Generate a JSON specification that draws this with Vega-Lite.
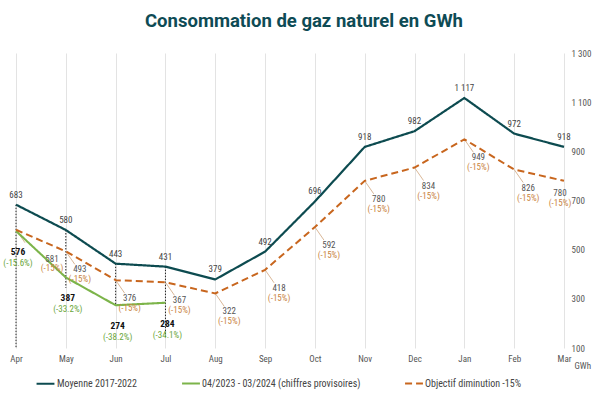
{
  "$schema": "https://vega.github.io/schema/vega-lite/v6.json",
  "width": 548,
  "height": 295,
  "autosize": {"type": "none"},
  "padding": {"left": 16, "top": 53, "right": 36, "bottom": 48},
  "title": {"text": "Consommation de gaz naturel en GWh", "font": "Roboto", "fontSize": 18.5, "fontWeight": "bold", "color": "#0e4b55", "anchor": "middle", "offset": 19, "dx": 14},
  "config": {
    "view": {"stroke": null},
    "font": "Liberation Sans Narrow, Roboto Condensed, Roboto",
    "locale": {"number": {"decimal": ",", "thousands": " ", "grouping": [3], "currency": ["", ""]}}
  },
  "datasets": {
    "lines": [
      {"month": "Apr", "series": "Moyenne 2017-2022", "value": 683},
      {"month": "May", "series": "Moyenne 2017-2022", "value": 580},
      {"month": "Jun", "series": "Moyenne 2017-2022", "value": 443},
      {"month": "Jul", "series": "Moyenne 2017-2022", "value": 431},
      {"month": "Aug", "series": "Moyenne 2017-2022", "value": 379},
      {"month": "Sep", "series": "Moyenne 2017-2022", "value": 492},
      {"month": "Oct", "series": "Moyenne 2017-2022", "value": 696},
      {"month": "Nov", "series": "Moyenne 2017-2022", "value": 918},
      {"month": "Dec", "series": "Moyenne 2017-2022", "value": 982},
      {"month": "Jan", "series": "Moyenne 2017-2022", "value": 1117},
      {"month": "Feb", "series": "Moyenne 2017-2022", "value": 972},
      {"month": "Mar", "series": "Moyenne 2017-2022", "value": 918},
      {"month": "Apr", "series": "04/2023 - 03/2024 (chiffres provisoires)", "value": 576, "pct": "(-15.6%)"},
      {"month": "May", "series": "04/2023 - 03/2024 (chiffres provisoires)", "value": 387, "pct": "(-33.2%)"},
      {"month": "Jun", "series": "04/2023 - 03/2024 (chiffres provisoires)", "value": 274, "pct": "(-38.2%)"},
      {"month": "Jul", "series": "04/2023 - 03/2024 (chiffres provisoires)", "value": 284, "pct": "(-34.1%)"},
      {"month": "Apr", "series": "Objectif diminution -15%", "value": 581, "pct": "(-15%)"},
      {"month": "May", "series": "Objectif diminution -15%", "value": 493, "pct": "(-15%)"},
      {"month": "Jun", "series": "Objectif diminution -15%", "value": 376, "pct": "(-15%)"},
      {"month": "Jul", "series": "Objectif diminution -15%", "value": 367, "pct": "(-15%)"},
      {"month": "Aug", "series": "Objectif diminution -15%", "value": 322, "pct": "(-15%)"},
      {"month": "Sep", "series": "Objectif diminution -15%", "value": 418, "pct": "(-15%)"},
      {"month": "Oct", "series": "Objectif diminution -15%", "value": 592, "pct": "(-15%)"},
      {"month": "Nov", "series": "Objectif diminution -15%", "value": 780, "pct": "(-15%)"},
      {"month": "Dec", "series": "Objectif diminution -15%", "value": 834, "pct": "(-15%)"},
      {"month": "Jan", "series": "Objectif diminution -15%", "value": 949, "pct": "(-15%)"},
      {"month": "Feb", "series": "Objectif diminution -15%", "value": 826, "pct": "(-15%)"},
      {"month": "Mar", "series": "Objectif diminution -15%", "value": 780, "pct": "(-15%)"}
    ],
    "drops": [
      {"month": "Apr", "from": 683, "to": 100},
      {"month": "May", "from": 580, "to": 345},
      {"month": "Jun", "from": 443, "to": 275},
      {"month": "Jul", "from": 431, "to": 145}
    ]
  },
  "encoding": {
    "x": {
      "field": "month", "type": "ordinal",
      "sort": ["Apr","May","Jun","Jul","Aug","Sep","Oct","Nov","Dec","Jan","Feb","Mar"],
      "scale": {"type": "point", "padding": 0, "domain": ["Apr","May","Jun","Jul","Aug","Sep","Oct","Nov","Dec","Jan","Feb","Mar"]},
      "axis": {"title": null, "grid": true, "gridColor": "#e3e3e3", "gridWidth": 1, "domain": false, "ticks": false, "labelAngle": 0, "labelFontSize": 9, "labelColor": "#555555", "labelPadding": 6}
    }
  },
  "layer": [
    {
      "data": {"name": "drops"},
      "mark": {"type": "rule", "color": "#222222", "strokeWidth": 1, "strokeDash": [1.5, 1.5]},
      "encoding": {
        "y": {"field": "from", "type": "quantitative"},
        "y2": {"field": "to"}
      }
    },
    {
      "data": {"name": "lines"},
      "transform": [{"filter": "datum.series == 'Objectif diminution -15%' && datum.month != 'Mar'"}],
      "mark": {"type": "rule", "color": "#cfa47c", "strokeWidth": 0.8, "x2Offset": 9, "y2Offset": 13},
      "encoding": {
        "y": {"field": "value", "type": "quantitative"},
        "x2": {"field": "month"},
        "y2": {"field": "value"}
      }
    },
    {
      "data": {"name": "lines"},
      "mark": {"type": "line"},
      "encoding": {
        "y": {
          "field": "value", "type": "quantitative",
          "scale": {"domain": [100, 1300], "nice": false, "zero": false},
          "axis": {"orient": "right", "values": [100,300,500,700,900,1100,1300], "format": ",.0f", "grid": false, "domain": false, "ticks": false, "labelFontSize": 9, "labelColor": "#555555", "labelPadding": 7, "title": "GWh", "titleAngle": 0, "titleFontSize": 9, "titleFontWeight": "normal", "titleColor": "#555555", "titleAlign": "left", "titleBaseline": "top", "titleX": 10, "titleY": 308}
        },
        "color": {
          "field": "series", "type": "nominal",
          "scale": {"domain": ["Moyenne 2017-2022", "04/2023 - 03/2024 (chiffres provisoires)", "Objectif diminution -15%"], "range": ["#0d4b50", "#7cb44a", "#c8661e"]},
          "legend": {"title": null, "orient": "none", "legendX": 19, "legendY": 320, "direction": "horizontal", "symbolType": "stroke", "symbolStrokeWidth": 2.5, "symbolSize": 320, "labelFontSize": 10, "labelColor": "#444444", "columnPadding": 40, "labelOffset": 1}
        },
        "strokeDash": {
          "field": "series", "type": "nominal",
          "scale": {"domain": ["Moyenne 2017-2022", "04/2023 - 03/2024 (chiffres provisoires)", "Objectif diminution -15%"], "range": [[1, 0], [1, 0], [7, 4]]},
          "legend": {"title": null}
        },
        "strokeWidth": {
          "field": "series", "type": "nominal",
          "scale": {"domain": ["Moyenne 2017-2022", "04/2023 - 03/2024 (chiffres provisoires)", "Objectif diminution -15%"], "range": [2.2, 2, 3]},
          "legend": null
        }
      }
    },
    {
      "data": {"name": "lines"},
      "transform": [{"filter": "datum.series == 'Moyenne 2017-2022'"}],
      "mark": {"type": "text", "dy": -10, "fontSize": 9, "color": "#444444"},
      "encoding": {
        "y": {"field": "value", "type": "quantitative"},
        "text": {"field": "value", "type": "quantitative", "format": ","}
      }
    },
    {
      "data": {"name": "lines"},
      "transform": [{"filter": "datum.series == 'Objectif diminution -15%' && datum.month != 'Apr' && datum.month != 'Mar'"}],
      "mark": {"type": "text", "dx": 14, "dy": 18, "fontSize": 9, "color": "#555555"},
      "encoding": {
        "y": {"field": "value", "type": "quantitative"},
        "text": {"field": "value", "type": "quantitative", "format": ","}
      }
    },
    {
      "data": {"name": "lines"},
      "transform": [{"filter": "datum.series == 'Objectif diminution -15%' && datum.month != 'Apr' && datum.month != 'Mar'"}],
      "mark": {"type": "text", "dx": 14, "dy": 28, "fontSize": 9, "color": "#c9843f"},
      "encoding": {
        "y": {"field": "value", "type": "quantitative"},
        "text": {"field": "pct", "type": "nominal"}
      }
    },
    {
      "data": {"name": "lines"},
      "transform": [{"filter": "datum.series == 'Objectif diminution -15%' && datum.month == 'Apr'"}],
      "mark": {"type": "text", "dx": 36, "dy": 29, "fontSize": 9, "color": "#555555"},
      "encoding": {
        "y": {"field": "value", "type": "quantitative"},
        "text": {"field": "value", "type": "quantitative", "format": ","}
      }
    },
    {
      "data": {"name": "lines"},
      "transform": [{"filter": "datum.series == 'Objectif diminution -15%' && datum.month == 'Apr'"}],
      "mark": {"type": "text", "dx": 36, "dy": 38, "fontSize": 9, "color": "#c9843f"},
      "encoding": {
        "y": {"field": "value", "type": "quantitative"},
        "text": {"field": "pct", "type": "nominal"}
      }
    },
    {
      "data": {"name": "lines"},
      "transform": [{"filter": "datum.series == 'Objectif diminution -15%' && datum.month == 'Mar'"}],
      "mark": {"type": "text", "dx": -4, "dy": 12, "fontSize": 9, "color": "#555555"},
      "encoding": {
        "y": {"field": "value", "type": "quantitative"},
        "text": {"field": "value", "type": "quantitative", "format": ","}
      }
    },
    {
      "data": {"name": "lines"},
      "transform": [{"filter": "datum.series == 'Objectif diminution -15%' && datum.month == 'Mar'"}],
      "mark": {"type": "text", "dx": -4, "dy": 22, "fontSize": 9, "color": "#c9843f"},
      "encoding": {
        "y": {"field": "value", "type": "quantitative"},
        "text": {"field": "pct", "type": "nominal"}
      }
    },
    {
      "data": {"name": "lines"},
      "transform": [{"filter": "datum.series == '04/2023 - 03/2024 (chiffres provisoires)'"}],
      "mark": {"type": "text", "dx": 2, "dy": 21, "fontSize": 9.5, "fontWeight": "bold", "color": "#111111"},
      "encoding": {
        "y": {"field": "value", "type": "quantitative"},
        "text": {"field": "value", "type": "quantitative", "format": ","}
      }
    },
    {
      "data": {"name": "lines"},
      "transform": [{"filter": "datum.series == '04/2023 - 03/2024 (chiffres provisoires)'"}],
      "mark": {"type": "text", "dx": 2, "dy": 32, "fontSize": 9, "color": "#6aa63a"},
      "encoding": {
        "y": {"field": "value", "type": "quantitative"},
        "text": {"field": "pct", "type": "nominal"}
      }
    }
  ]
}
